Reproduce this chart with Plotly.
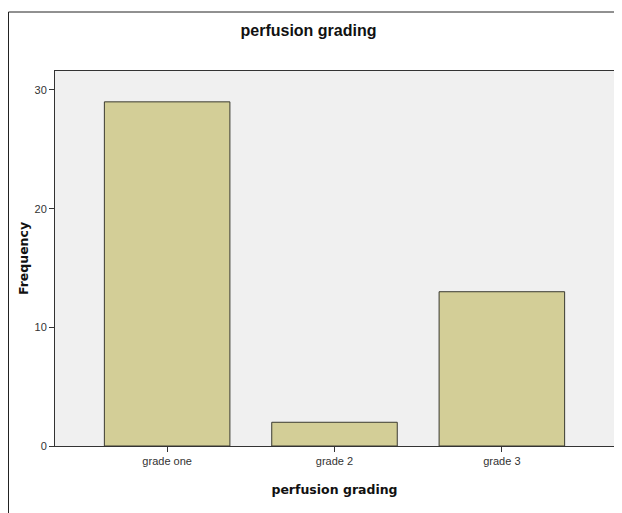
import plotly.graph_objects as go

categories = ["grade one", "grade 2", "grade 3"]
frequency = [29, 2, 13]
y_ticks = [0, 10, 20, 30]

# page body adds an 8px margin, so the figure is sized to fit inside the window
OFF = 8
W, H = 622 - OFF, 513 - OFF
L, R, T, B = 55 - OFF, 8, 71 - OFF, 67
pw, ph = W - L - R, H - T - B

fig = go.Figure(go.Bar(
    x=categories, y=frequency, width=0.75,
    marker=dict(color="#D3CE97", line=dict(color="#3a3a30", width=1)),
))

def px_x(v):
    return (v - OFF - L) / pw

def px_y(v):
    return (H - B - (v - OFF)) / ph

fig.update_layout(
    width=W, height=H,
    margin=dict(l=L, r=R, t=T, b=B),
    paper_bgcolor="white", plot_bgcolor="#F0F0F0",
    showlegend=False,
    title=dict(text="perfusion grading", x=(308.5 - OFF) / W, xanchor="center",
               y=1 - (30 - OFF) / H, yanchor="middle",
               font=dict(family="Liberation Sans", size=16, color="#111", weight="bold")),
    xaxis=dict(
        range=[-0.67, 2.67], showgrid=False, zeroline=False,
        ticks="outside", ticklen=5, tickcolor="#333", tickwidth=1,
        showline=True, linecolor="#333", linewidth=1, mirror=True,
        tickfont=dict(family="Liberation Sans", size=11, color="#333"),
        title=dict(text="perfusion grading", standoff=19,
                   font=dict(family="DejaVu Sans", size=12.5, color="#111", weight="bold")),
    ),
    yaxis=dict(
        range=[0, 31.6], tickvals=y_ticks, showgrid=False, zeroline=False,
        ticks="outside", ticklen=5, tickcolor="#333", tickwidth=1,
        showline=True, linecolor="#333", linewidth=1, mirror=True,
        tickfont=dict(family="Liberation Sans", size=11, color="#333"),
        title=dict(text="Frequency", standoff=3,
                   font=dict(family="DejaVu Sans", size=12.5, color="#111", weight="bold")),
    ),
    shapes=[
        dict(type="line", xref="paper", yref="paper",
             x0=px_x(8.5), x1=px_x(8.5), y0=px_y(12), y1=px_y(520),
             line=dict(color="#222", width=1)),
        dict(type="line", xref="paper", yref="paper",
             x0=px_x(8.5), x1=px_x(630), y0=px_y(12), y1=px_y(12),
             line=dict(color="#222", width=1)),
    ],
)

fig.write_html("out.html")
